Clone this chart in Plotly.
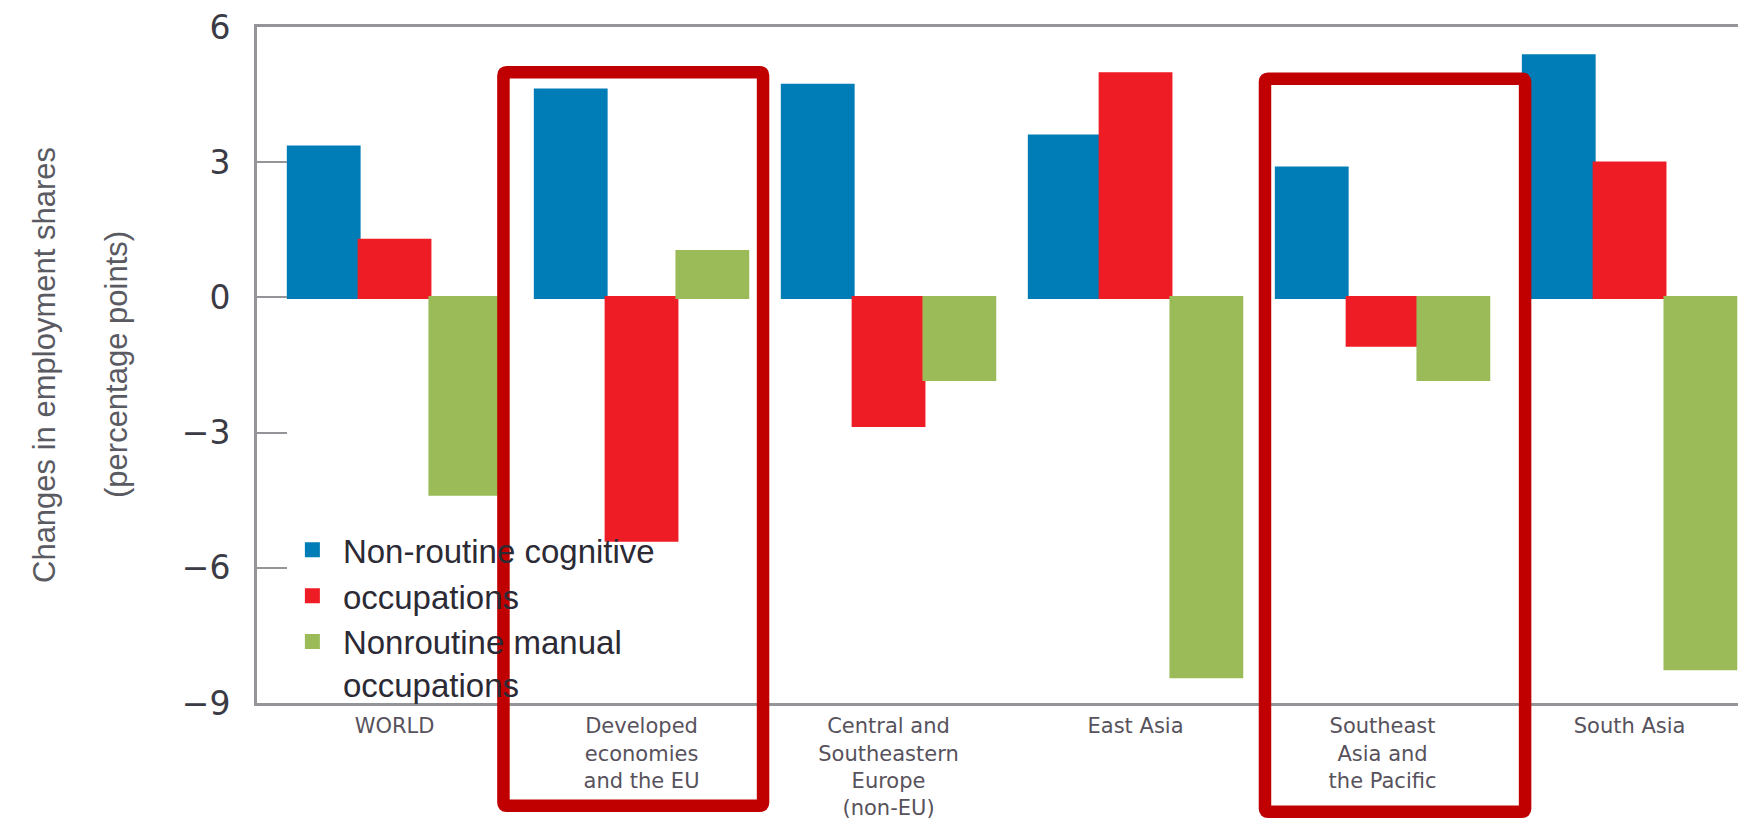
import plotly.graph_objects as go

# ---------------- data ----------------
categories = [
    "WORLD",
    "Developed<br>economies<br>and the EU",
    "Central and<br>Southeastern<br>Europe<br>(non-EU)",
    "East Asia",
    "Southeast<br>Asia and<br>the Pacific",
    "South Asia",
]
series_names = ["Non-routine cognitive", "occupations", "Nonroutine manual<br>occupations"]
nonroutine_cognitive = [3.34, 4.60, 4.71, 3.58, 2.87, 5.36]
routine = [1.27, -5.39, -2.84, 4.96, -1.06, 2.98]
nonroutine_manual = [-4.37, 1.02, -1.82, -8.42, -1.82, -8.24]
y_tickvals = [-9, -6, -3, 0, 3, 6]
y_ticktext = ["\u22129", "\u22126", "\u22123", "0", "3", "6"]
y_title_lines = ["Changes in employment shares", "(percentage points)"]

# highlighted groups (category-index extents, paper y extents)
box_x = [(0.441, 1.492), (3.524, 4.577)]
box_y = [(-0.152, 0.933), (-0.161, 0.9235)]

# ---------------- style ----------------
colors = ["#007CB7", "#EE1C25", "#9BBB59"]
grey = "#939598"
W, H = 1738, 827
ml, mr, mt, mb = 257, 0, 27, 124
x_range = [-0.5567, 5.439]
y_range = [-9, 6]

fig = go.Figure()
for name, vals, col in zip(series_names, [nonroutine_cognitive, routine, nonroutine_manual], colors):
    fig.add_trace(go.Bar(x=categories, y=vals, name=name,
                         marker=dict(color=col, line=dict(width=3, color=col))))

zero_pos = (0 - y_range[0]) / (y_range[1] - y_range[0])
boundaries = [i + 0.5 for i in range(len(categories) - 1)]

fig.update_layout(
    width=W, height=H,
    margin=dict(l=ml, r=mr, t=mt, b=mb, pad=0),
    paper_bgcolor="white", plot_bgcolor="white",
    barmode="group", bargap=0.14, bargroupgap=0,
    showlegend=True,
    legend=dict(
        x=0.0168, y=0.268, xanchor="left", yanchor="top",
        bgcolor="rgba(0,0,0,0)", borderwidth=0,
        font=dict(family="Liberation Sans, Arial, sans-serif", size=33, color="#2b2a35"),
        valign="top", itemwidth=51, traceorder="normal",
    ),
    xaxis=dict(
        type="category", range=x_range, showline=True, linecolor=grey, linewidth=3,
        mirror=True, ticks="", showgrid=False, zeroline=False, automargin=False,
        tickfont=dict(family="DejaVu Sans, sans-serif", size=21, color="#57525c"),
        ticklabelstandoff=2,
    ),
    xaxis2=dict(
        type="linear", range=x_range, overlaying="x", anchor="free", position=zero_pos,
        side="bottom", showline=True, linecolor=grey, linewidth=3, ticks="inside",
        tickvals=boundaries, ticklen=9, tickwidth=4, tickcolor=grey,
        showticklabels=False, showgrid=False, zeroline=False, layer="above traces",
        automargin=False,
    ),
    yaxis=dict(
        range=y_range, showline=True, linecolor=grey, linewidth=3, ticks="inside",
        ticklen=30, tickwidth=2, tickcolor=grey, tickvals=y_tickvals, ticktext=y_ticktext,
        showgrid=False, zeroline=False, automargin=False,
        tickfont=dict(family="DejaVu Sans, sans-serif", size=33, color="#3b3b45"),
        ticklabelstandoff=17,
    ),
)

# y-axis title as two rotated lines
for text, xs in zip(y_title_lines, [-213, -141]):
    fig.add_annotation(
        text=text, xref="paper", yref="paper", x=0, y=0.5, xshift=xs,
        xanchor="center", yanchor="middle", textangle=-90, showarrow=False,
        font=dict(family="Liberation Sans, Arial, sans-serif", size=31, color="#5a5a62"),
    )

# highlight boxes with slightly rounded corners
px_x = (x_range[1] - x_range[0]) / (W - ml - mr)
px_y = 1 / (H - mt - mb)
r = 3
for (x0, x1), (y0, y1) in zip(box_x, box_y):
    rx, ry = r * px_x, r * px_y
    path = (
        f"M{x0+rx},{y1} L{x1-rx},{y1} Q{x1},{y1} {x1},{y1-ry} "
        f"L{x1},{y0+ry} Q{x1},{y0} {x1-rx},{y0} "
        f"L{x0+rx},{y0} Q{x0},{y0} {x0},{y0+ry} "
        f"L{x0},{y1-ry} Q{x0},{y1} {x0+rx},{y1} Z"
    )
    fig.add_shape(type="path", path=path, xref="x", yref="paper",
                  line=dict(color="#C00000", width=12.5), fillcolor="rgba(0,0,0,0)", layer="above")

fig.write_html("out.html")
